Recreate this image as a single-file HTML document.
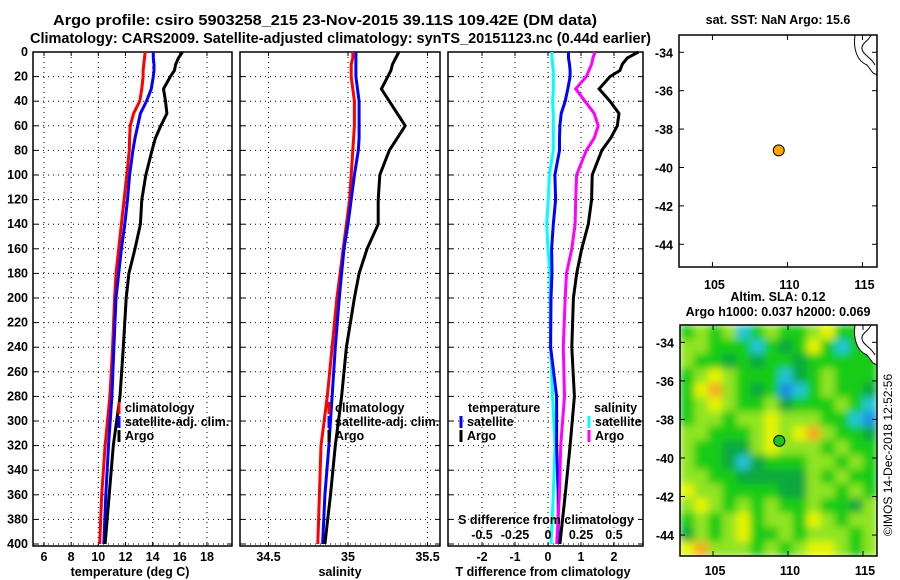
<!DOCTYPE html>
<html><head><meta charset="utf-8"><style>
html,body{margin:0;padding:0;background:#fff}
svg{display:block;font-family:"Liberation Sans",Arial,sans-serif}
text{font-weight:bold;font-size:12.5px;fill:#000}
</style></head><body>
<svg id="c" width="900" height="580" viewBox="0 0 900 580">
<defs>
<filter id="bl" x="0" y="0" width="1" height="1"><feGaussianBlur stdDeviation="4" edgeMode="duplicate"/></filter>
<clipPath id="mclip"><rect x="680" y="325" width="197" height="231"/></clipPath>
</defs>
<text x="53" y="25" textLength="544" lengthAdjust="spacingAndGlyphs" style="font-size:15px">Argo profile: csiro 5903258_215 23-Nov-2015 39.11S 109.42E (DM data)</text>
<text x="30" y="43" textLength="621" lengthAdjust="spacingAndGlyphs" style="font-size:14.5px">Climatology: CARS2009. Satellite-adjusted climatology: synTS_20151123.nc (0.44d earlier)</text>
<text x="778" y="24" text-anchor="middle">sat. SST: NaN Argo: 15.6</text>
<text x="778" y="301" text-anchor="middle">Altim. SLA: 0.12</text>
<text x="778" y="316" text-anchor="middle">Argo h1000: 0.037 h2000: 0.069</text>
<text transform="translate(892,455) rotate(-90)" text-anchor="middle" style="font-weight:normal;font-size:12px">©IMOS 14-Dec-2018 12:52:56</text>
</svg>
<script>
const depths=[0,5,10,15,20,30,40,50,60,70,80,100,120,140,160,180,200,240,280,320,360,400];
const tClim=[13.45,13.4,13.35,13.3,13.3,13.2,13.05,12.6,12.35,12.3,12.28,12.1,11.9,11.7,11.5,11.3,11.2,11.05,10.85,10.5,10.25,10.1];
const tSat=[14.05,14.05,14.1,14.1,14.05,13.9,13.55,13.1,12.9,12.7,12.55,12.3,12.15,11.95,11.7,11.5,11.3,11.15,11.0,10.75,10.55,10.4];
const tArgo=[16.2,15.9,15.7,15.6,15.3,14.8,14.95,15.05,14.6,14.2,13.95,13.5,13.2,13.1,12.7,12.25,12.05,11.84,11.6,11.1,10.8,10.5];
const sClim=[35.03,35.03,35.02,35.02,35.02,35.03,35.04,35.04,35.04,35.035,35.03,35.02,35.01,34.99,34.97,34.95,34.93,34.9,34.87,34.83,34.82,34.81];
const sSat=[35.05,35.05,35.05,35.05,35.05,35.06,35.07,35.07,35.07,35.07,35.065,35.04,35.02,35.0,34.975,34.96,34.945,34.92,34.9,34.88,34.855,34.84];
const sArgo=[35.32,35.3,35.28,35.27,35.25,35.21,35.26,35.31,35.36,35.31,35.26,35.2,35.19,35.19,35.12,35.07,35.04,34.99,34.96,34.92,34.89,34.855];
const dTSat=[0.62,0.62,0.65,0.67,0.67,0.6,0.52,0.4,0.36,0.35,0.35,0.21,0.23,0.16,0.11,0.12,0.09,0.08,0.26,0.26,0.31,0.31];
const dTArgo=[2.74,2.4,2.25,2.18,1.88,1.55,1.88,2.15,2.1,1.9,1.63,1.34,1.32,1.22,1.02,0.87,0.77,0.72,0.8,0.67,0.52,0.36];
const dSSat=[0.028,0.03,0.035,0.04,0.04,0.04,0.035,0.04,0.04,0.04,0.04,0.01,0.002,-0.01,0.0,0.015,0.015,0.02,0.035,0.053,0.04,0.023];
const dSArgo=[0.356,0.34,0.33,0.31,0.29,0.21,0.28,0.35,0.38,0.35,0.29,0.217,0.21,0.205,0.18,0.14,0.13,0.116,0.125,0.096,0.086,0.066];
const depthTicks=[0,20,40,60,80,100,120,140,160,180,200,220,240,260,280,300,320,340,360,380,400];
const tTicks=[6,8,10,12,14,16,18];
const sTicks=[34.5,35,35.5];
const dTTicks=[-2,-1,0,1,2];
const dSTicks=[-0.5,-0.25,0,0.25,0.5];
const lonTicks=[105,110,115];
const latTicks=[-34,-36,-38,-40,-42,-44];
const argoLon=109.42, argoLat=-39.11;
const slaGrid=[
[0,1,0,1,-2,0,1,0,0,1,2,0,0,0],
[1,1,0,0,0,-2,0,-1,0,2,0,-2,0,0],
[1,0,0,-1,0,-1,0,0,-1,0,0,0,0,0],
[0,1,2,1,0,0,0,-2,-1,0,1,0,0,0],
[0,2,3,1,0,-1,0,-3,-2,0,1,0,0,-1],
[0,1,2,1,0,0,1,-1,0,0,0,1,0,-2],
[0,1,1,0,1,1,2,1,1,1,0,0,-2,-3],
[1,1,0,0,0,1,2,1,2,3,1,0,0,-1],
[1,0,0,-1,-1,1,2,1,1,1,0,1,0,0],
[1,0,0,-1,-2,-1,0,0,0,1,1,0,1,0],
[1,1,0,0,-1,-1,-1,-1,-1,1,0,1,0,0],
[2,1,1,0,0,0,0,-1,-1,1,1,0,1,0],
[1,2,1,0,1,0,1,0,0,1,0,0,-1,1],
[0,1,0,1,2,0,1,1,0,2,1,0,1,1],
[-1,1,0,1,2,0,0,1,0,1,1,1,0,1],
[2,3,1,1,1,0,1,0,1,2,2,1,0,1]];

const svg=document.getElementById('c');
const NS='http://www.w3.org/2000/svg';
function mk(tag,attrs,parent){const e=document.createElementNS(NS,tag);for(const k in attrs)e.setAttribute(k,attrs[k]);(parent||svg).appendChild(e);return e;}
function tx(x,y,s,anchor){const e=mk('text',{x:x,y:y,'text-anchor':anchor||'middle'});e.textContent=s;return e;}
const Y0=52,Y1=546;
const yD=d=>Y0+d*1.23;
const xT=t=>44+(t-6)*13.58;
const xS=s=>348+(s-35)*159;
const xDT=v=>548+v*33;
const xDS=v=>548+v*132;

function panel(name,x0,x1,ticks,xf,labels){
  const g=mk('g',{});
  
  
  ticks.forEach(t=>{const x=xf(t);mk('line',{x1:x,x2:x,y1:Y0,y2:Y1,stroke:'#000','stroke-dasharray':'1,4'},g);
    mk('line',{x1:x,x2:x,y1:Y1,y2:Y1-4,stroke:'#000'},g);mk('line',{x1:x,x2:x,y1:Y0,y2:Y0+4,stroke:'#000'},g);
    if(labels){const e=tx(x,561,String(t));g.appendChild(e);}});
  depthTicks.forEach(d=>{const y=yD(d);mk('line',{x1:x0,x2:x1,y1:y,y2:y,stroke:'#000','stroke-dasharray':'1,4'},g);
    mk('line',{x1:x0,x2:x0+5,y1:y,y2:y,stroke:'#000'},g);mk('line',{x1:x1-5,x2:x1,y1:y,y2:y,stroke:'#000'},g);});
  mk('rect',{x:x0,y:Y0,width:x1-x0,height:Y1-Y0,fill:'none',stroke:'#000','stroke-width':1.5},g);
  return g;
}
function series(name,vals,xf,color){
  let pts='';
  depths.forEach((d,i)=>{pts+=xf(vals[i]).toFixed(1)+','+yD(d).toFixed(1)+' ';});
  const p=mk('polyline',{points:pts,fill:'none',stroke:color,'stroke-width':3,'stroke-linejoin':'miter'});
  
  
}
function legend(x,y,items){
  items.forEach((it,i)=>{
    if(it[1]){const m=mk('line',{x1:x,x2:x,y1:y+i*14-10,y2:y+i*14+2,stroke:it[1],'stroke-width':3});
      
      }
    const t=tx(x+6,y+i*14,it[0],'start');
    
    
  });
}
depthTicks.forEach(d=>{const t=tx(28,yD(d)+4,String(d),'end');
  
  });

panel('temperature-panel',33,232,tTicks,xT,true);
series('temp-climatology-line',tClim,xT,'#f00');
series('temp-satellite-line',tSat,xT,'#00f');
series('temp-argo-line',tArgo,xT,'#000');
legend(119,412,[['climatology','#f00'],['satellite-adj. clim.','#00f'],['Argo','#000']]);
let a=tx(130,576,'temperature (deg C)');

panel('salinity-panel',240,440,sTicks,xS,true);
series('sal-climatology-line',sClim,xS,'#f00');
series('sal-satellite-line',sSat,xS,'#00f');
series('sal-argo-line',sArgo,xS,'#000');
legend(329,412,[['climatology','#f00'],['satellite-adj. clim.','#00f'],['Argo','#000']]);
a=tx(340,576,'salinity');

panel('difference-panel',448,643,dTTicks,xDT,true);
series('dS-satellite-line',dSSat,xDS,'#0ff');
series('dT-satellite-line',dTSat,xDT,'#00f');
series('dS-argo-line',dSArgo,xDS,'#f0f');
series('dT-argo-line',dTArgo,xDT,'#000');
tx(468,412,'temperature','start');
legend(461,426,[['satellite','#00f'],['Argo','#000']]);
tx(594,412,'salinity','start');
legend(589,426,[['satellite','#0ff'],['Argo','#f0f']]);
a=tx(543,576,'T difference from climatology');
a=tx(546,524,'S difference from climatology');
dSTicks.forEach(v=>{const t=tx(xDS(v),539,String(v));
  mk('line',{x1:xDS(v),x2:xDS(v),y1:Y1,y2:Y1-4,stroke:'#000'});});

function map(name,x0,y0,w,h,latTop,pxPerLat,lonLeft,pxPerLon,labelY,dotColor,bg){
  const g=mk('g',{});
  
  
  const xL=lon=>x0+(lon-lonLeft)*pxPerLon;
  const yL=lat=>y0+(latTop-lat)*pxPerLat;
  if(bg) bg(g);
  const c=mk('path',{d:`M${x0+w-22},${y0} C${x0+w-24},${y0+14} ${x0+w-20},${y0+26} ${x0+w-10},${y0+30} L${x0+w-4},${y0+38} L${x0+w},${y0+40} L${x0+w},${y0} Z`,fill:'#fff',stroke:'#000','stroke-width':1},g);
  
  
  mk('path',{d:`M${x0+w-6},${y0} C${x0+w-8},${y0+6} ${x0+w-16},${y0+8} ${x0+w-15},${y0+14} C${x0+w-14},${y0+20} ${x0+w-6},${y0+22} ${x0+w-2},${y0+30}`,fill:'none',stroke:'#000','stroke-width':1},g);
  mk('rect',{x:x0,y:y0,width:w,height:h,fill:'none',stroke:'#000','stroke-width':1.5},g);
  lonTicks.forEach(l=>{const x=xL(l);mk('line',{x1:x,x2:x,y1:y0+h,y2:y0+h-5,stroke:'#000'},g);mk('line',{x1:x,x2:x,y1:y0,y2:y0+5,stroke:'#000'},g);
    const t=tx(x+2,labelY,String(l));g.appendChild(t);});
  latTicks.forEach(l=>{const y=yL(l);mk('line',{x1:x0,x2:x0+5,y1:y,y2:y,stroke:'#000'},g);mk('line',{x1:x0+w-5,x2:x0+w,y1:y,y2:y,stroke:'#000'},g);
    const t=tx(x0-6,y+5,String(l),'end');g.appendChild(t);});
  const d=mk('circle',{cx:xL(argoLon),cy:yL(argoLat),r:5.5,fill:dotColor,stroke:'#000','stroke-width':1},g);
  
  
}
map('sst-map',679,35,198,232,-33.1,19.2,102.77,15,289,'#ffa500',null);
const colorMap={'-3':'#1e8ee8','-2':'#22c4d4','-1':'#0ea83c','0':'#14cc14','1':'#90e420','2':'#e6f400','3':'#f4ac20'};
map('sla-map',680,325,197,231,-33.1,19.27,102.8,15,575,'#20c020',function(g){
  const hg=mk('g',{'clip-path':'url(#mclip)'},g);
  const inner=mk('g',{filter:'url(#bl)'},hg);
  const cw=197/slaGrid[0].length, ch=231/slaGrid.length;
  slaGrid.forEach((row,r)=>row.forEach((v,c)=>{
    const cell=mk('rect',{x:680+c*cw,y:325+r*ch,width:cw+0.5,height:ch+0.5,fill:colorMap[String(v)]},inner);
    
    
  }));
});
</script>
</body></html>
